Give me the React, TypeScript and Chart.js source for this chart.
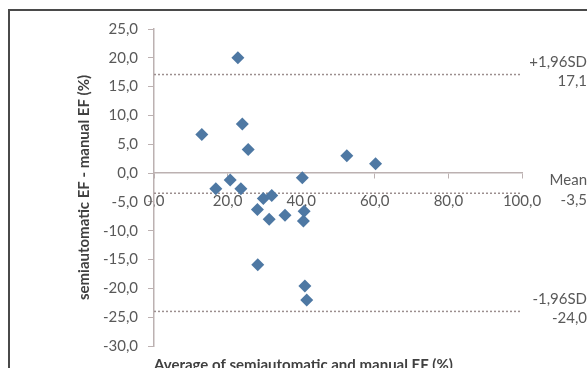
import React, { useEffect, useRef } from 'react';
import { Chart, registerables } from 'chart.js';

Chart.register(...registerables);

// Bland-Altman data: average of the two EF methods vs their difference
const avgEF = [13.0, 22.8, 24.0, 25.6, 16.8, 20.7, 23.6, 28.1, 29.7, 32.0, 31.3, 35.6, 40.3, 40.8, 40.6, 28.2, 41.0, 41.5, 52.4, 60.2];
const diffEF = [6.7, 20.0, 8.5, 4.1, -2.7, -1.2, -2.7, -6.3, -4.4, -3.9, -8.0, -7.3, -0.8, -6.6, -8.3, -15.9, -19.6, -22.0, 3.0, 1.6];

const upperLoA = 17.1;
const meanDiff = -3.5;
const lowerLoA = -24.0;
const refValues = [upperLoA, meanDiff, lowerLoA];
const refLabels = [
  ['+1,96SD', '17,1'],
  ['Mean', '-3,5'],
  ['-1,96SD', '-24,0'],
];

const xMin = 0;
const xMax = 100;
const xStep = 20;
const yMin = -30;
const yMax = 25;
const yStep = 5;

const xTitle = 'Average of semiautomatic and manual EF (%)';
const yTitle = 'semiautomatic EF - manual EF (%)';

const FONT = 'Lato, "Open Sans", sans-serif';
const TEXT = '#595959';
const AXIS = '#bcb1b1';
const DOT = '#9c8f8f';
const MARK = '#4e78a3';

const fmt = (v: number) => v.toFixed(1).replace('.', ',');

export default function App() {
  const ref = useRef<HTMLCanvasElement | null>(null);

  useEffect(() => {
    if (!ref.current) return;
    const refLine = (v: number) => ({
      type: 'line' as const,
      data: [
        { x: xMin, y: v },
        { x: xMax, y: v },
      ],
      borderColor: DOT,
      borderWidth: 1.5,
      borderDash: [2, 2],
      pointRadius: 0,
      fill: false,
      order: 2,
    });
    const chart = new Chart(ref.current, {
      type: 'scatter',
      data: {
        datasets: [
          {
            type: 'scatter',
            data: avgEF.map((x, i) => ({ x, y: diffEF[i] })),
            pointStyle: 'rectRot',
            pointRadius: 6.5,
            pointHoverRadius: 6.5,
            backgroundColor: MARK,
            borderColor: MARK,
            borderWidth: 0,
            order: 1,
          },
          ...refValues.map(refLine),
        ] as any,
      },
      options: {
        animation: false,
        responsive: false,
        maintainAspectRatio: false,
        layout: { padding: { top: 29, right: 13, bottom: 0, left: 0 } },
        plugins: { legend: { display: false }, tooltip: { enabled: false } },
        scales: {
          x: {
            type: 'linear',
            position: { y: 0 } as any,
            min: xMin,
            max: xMax,
            ticks: {
              stepSize: xStep,
              callback: (v: any) => fmt(Number(v)),
              color: TEXT,
              font: { family: FONT, size: 15 },
              padding: 14,
              maxRotation: 0,
            },
            grid: { drawOnChartArea: false, drawTicks: true, tickLength: 5, color: AXIS },
            border: { display: true, color: AXIS, width: 1.5 },
          },
          x2: {
            type: 'linear',
            axis: 'x',
            position: 'bottom',
            min: xMin,
            max: xMax,
            ticks: { display: false },
            grid: { display: false, drawTicks: false },
            border: { display: false },
            title: {
              display: true,
              text: xTitle,
              align: 'start',
              color: '#404040',
              font: { family: FONT, size: 15, weight: 'bold' },
              padding: { top: 8, bottom: 6 },
            },
            afterFit: (s: any) => {
              s.height = 34;
            },
          } as any,
          y: {
            type: 'linear',
            position: 'left',
            min: yMin,
            max: yMax,
            ticks: {
              stepSize: yStep,
              callback: (v: any) => fmt(Number(v)),
              color: TEXT,
              font: { family: FONT, size: 15 },
              padding: 10,
            },
            grid: { drawOnChartArea: false, drawTicks: true, tickLength: 6, color: AXIS },
            border: { display: true, color: AXIS, width: 1.5 },
            title: {
              display: true,
              text: yTitle,
              color: '#404040',
              font: { family: FONT, size: 15, weight: 'bold' },
              padding: { top: 75, bottom: 0 },
            },
            afterFit: (s: any) => {
              s.width = 154;
            },
          },
          y2: {
            type: 'linear',
            axis: 'y',
            position: 'right',
            min: yMin,
            max: yMax,
            afterBuildTicks: (s: any) => {
              s.ticks = refValues.map((value) => ({ value }));
            },
            ticks: {
              callback: (v: any) => {
                const i = refValues.indexOf(Number(v));
                return i >= 0 ? refLabels[i] : '';
              },
              color: TEXT,
              font: { family: FONT, size: 15, lineHeight: 1.3 },
              crossAlign: 'far',
              padding: 9,
              labelOffset: -3,
            },
            grid: { display: false, drawTicks: false },
            border: { display: false },
            afterFit: (s: any) => {
              s.width = 65;
            },
          } as any,
        },
      },
    });
    return () => chart.destroy();
  }, []);

  return (
    <div
      style={{
        position: 'fixed',
        left: 0,
        top: 0,
        width: 587,
        height: 368,
        overflow: 'hidden',
        background: '#fff',
      }}
    >
      <div
        style={{
          position: 'absolute',
          left: 8,
          top: 9,
          width: 620,
          height: 400,
          borderLeft: '2px solid #4a4a4a',
          borderTop: '2px solid #4a4a4a',
        }}
      />
      <canvas ref={ref} width={600} height={380} style={{ position: 'absolute', left: 0, top: 0, width: 600, height: 380 }} />
    </div>
  );
}
